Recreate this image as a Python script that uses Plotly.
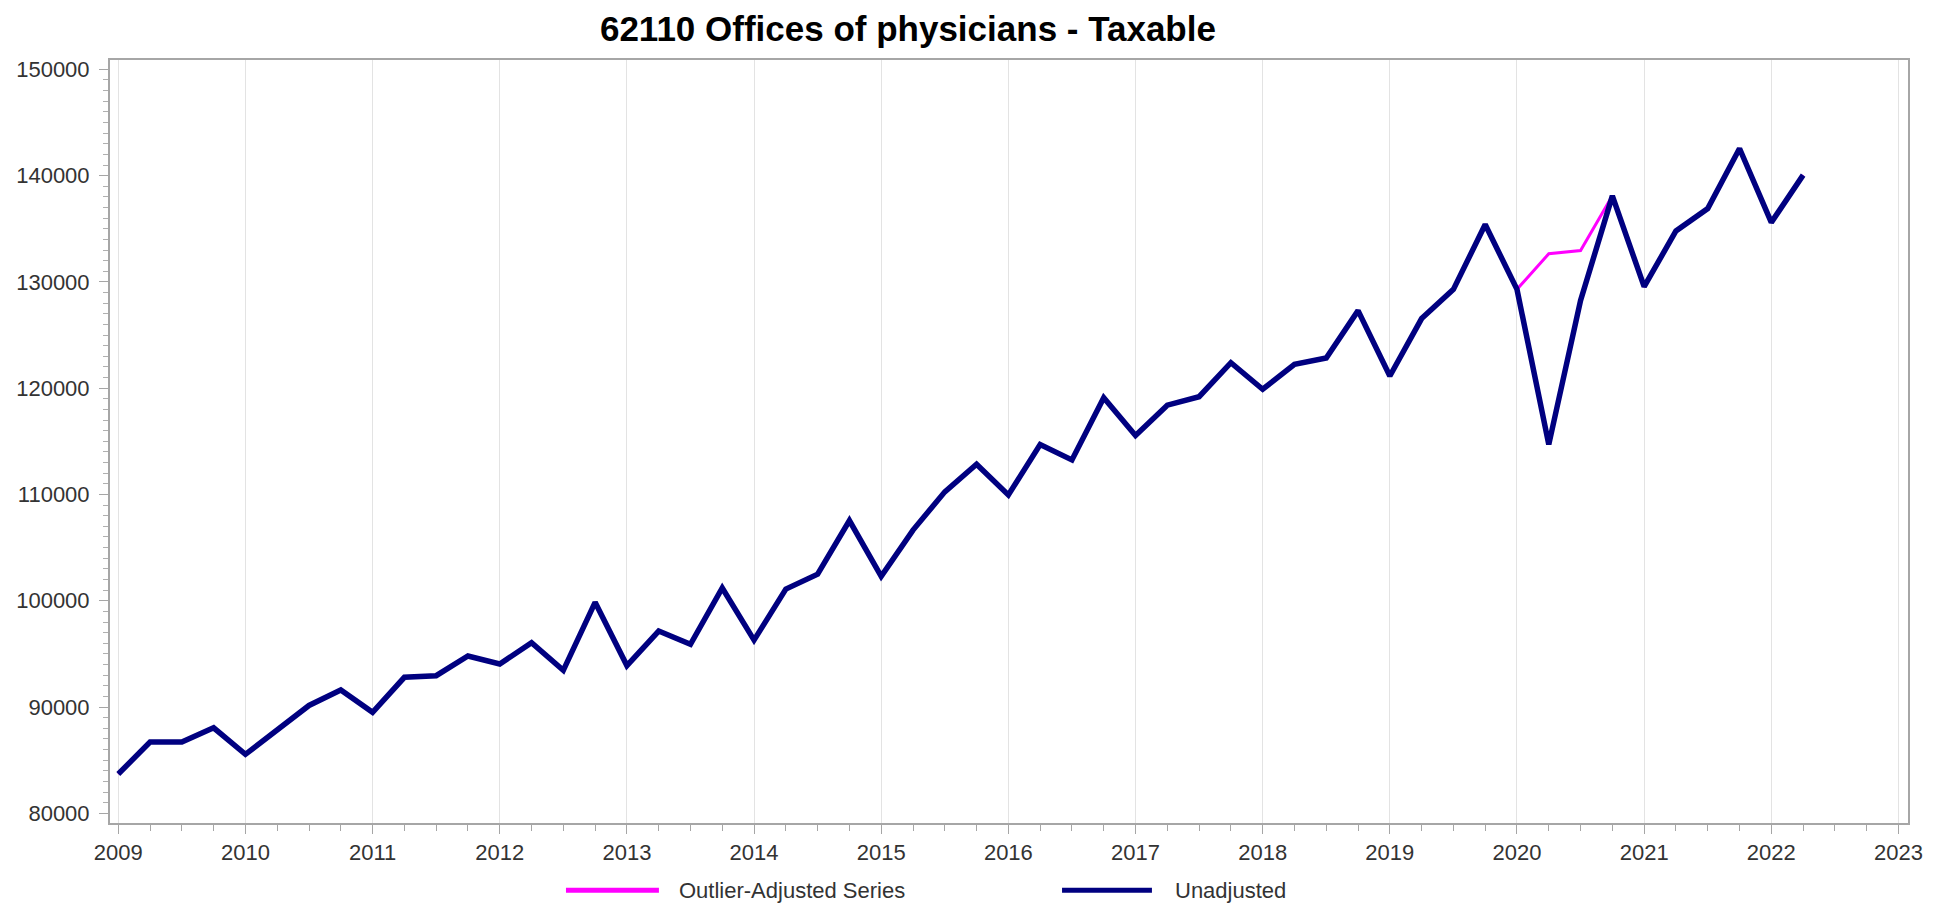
import plotly.graph_objs as go

# quarterly positions, 2009Q1 .. 2022Q2
quarters = [year + q / 4 for year in range(2009, 2023) for q in range(4)][:54]

unadjusted = [
    83700, 86700, 86700, 88050,
    85550, 87900, 90150, 91600,
    89500, 92800, 92950, 94800,
    94050, 96050, 93450, 99850,
    93900, 97150, 95900, 101200,
    96300, 101100, 102500, 107550,
    102300, 106650, 110250, 112850,
    109950, 114700, 113250, 119100,
    115550, 118400, 119200, 122400,
    119900, 122250, 122850, 127300,
    121150, 126550, 129300, 135400,
    129300, 114700, 128250, 138100,
    129550, 134800, 136900, 142550,
    135600, 140050,
]

outlier_adjusted = [
    83700, 86700, 86700, 88050,
    85550, 87900, 90150, 91600,
    89500, 92800, 92950, 94800,
    94050, 96050, 93450, 99850,
    93900, 97150, 95900, 101200,
    96300, 101100, 102500, 107550,
    102300, 106650, 110250, 112850,
    109950, 114700, 113250, 119100,
    115550, 118400, 119200, 122400,
    119900, 122250, 122850, 127300,
    121150, 126550, 129300, 135400,
    129300, 132650, 132950, 138100,
    129550, 134800, 136900, 142550,
    135600, 140050,
]

year_ticks = list(range(2009, 2024))
y_ticks = [80000, 90000, 100000, 110000, 120000, 130000, 140000, 150000]

series_names = ["Outlier-Adjusted Series", "Unadjusted"]
series_colors = ["#ff00ff", "#000080"]

font_family = "Liberation Sans, Arial, sans-serif"

trace0 = go.Scatter(
    x=quarters,
    y=outlier_adjusted,
    name=series_names[0],
    mode="lines",
    line=dict(color=series_colors[0], width=3),
    showlegend=False,
)

trace1 = go.Scatter(
    x=quarters,
    y=unadjusted,
    name=series_names[1],
    mode="lines",
    line=dict(color=series_colors[1], width=5.5),
    showlegend=False,
)

# legend drawn below the plot: sample line + label for each series
legend_y = -0.088
legend_lines = [(0.2536, 0.3053), (0.5295, 0.5795)]
legend_text_x = [0.3154, 0.5912]

shapes = []
annotations = []
for i in range(2):
    shapes.append(dict(
        type="line", xref="paper", yref="paper",
        x0=legend_lines[i][0], x1=legend_lines[i][1], y0=legend_y, y1=legend_y,
        line=dict(color=series_colors[i], width=5),
    ))
    annotations.append(dict(
        text=series_names[i], xref="paper", yref="paper",
        x=legend_text_x[i], y=legend_y, xanchor="left", yanchor="middle",
        showarrow=False,
        font=dict(family=font_family, size=22, color="#333333"),
    ))

layout = go.Layout(
    width=1934,
    height=905,
    paper_bgcolor="white",
    plot_bgcolor="white",
    margin=dict(l=102, r=34, t=52, b=90),
    showlegend=False,
    shapes=shapes,
    annotations=annotations,
    title=dict(
        text="<b>62110 Offices of physicians - Taxable</b>",
        x=0.4438,
        xref="paper",
        xanchor="center",
        y=0.977,
        yanchor="middle",
        font=dict(family=font_family, size=35, color="black"),
    ),
    xaxis=dict(
        range=[2008.935, 2023.075],
        tickvals=year_ticks,
        ticktext=[str(y) for y in year_ticks],
        automargin=False,
        showgrid=True,
        gridcolor="#e3e3e3",
        gridwidth=1,
        zeroline=False,
        showline=True,
        linecolor="#a6a6a6",
        linewidth=2,
        mirror=True,
        ticks="outside",
        ticklen=9,
        tickcolor="#a6a6a6",
        tickfont=dict(family=font_family, size=22, color="#333333"),
        minor=dict(dtick=0.25, tick0=2009, ticks="outside", ticklen=6, tickcolor="#a6a6a6", showgrid=False),
    ),
    yaxis=dict(
        range=[79090, 150880],
        tickvals=y_ticks,
        automargin=False,
        showgrid=False,
        zeroline=False,
        showline=True,
        linecolor="#a6a6a6",
        linewidth=2,
        mirror=True,
        ticks="outside",
        ticklen=9,
        tickcolor="#a6a6a6",
        tickformat="d",
        ticklabelstandoff=5,
        tickfont=dict(family=font_family, size=22, color="#333333"),
        minor=dict(dtick=1000, tick0=0, ticks="outside", ticklen=5, tickcolor="#b0b0b0", showgrid=False),
    ),
)

fig = go.Figure(data=[trace0, trace1], layout=layout)
fig.write_html("out.html")
